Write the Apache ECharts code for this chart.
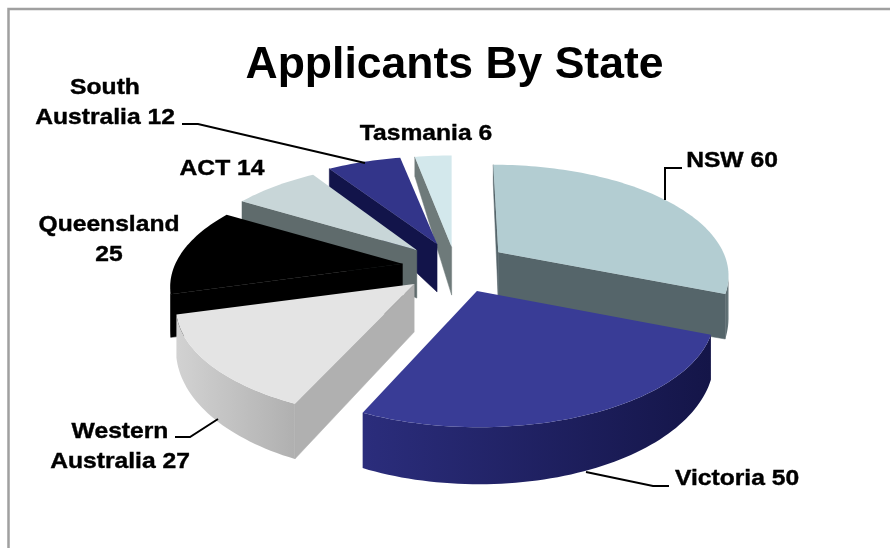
<!DOCTYPE html>
<html>
<head>
<meta charset="utf-8">
<style>
  html, body { margin: 0; padding: 0; background: #fff; }
  #main { width: 890px; height: 548px; }
</style>
</head>
<body>
<div id="main"></div>
<script src="https://cdn.jsdelivr.net/npm/echarts@6/dist/echarts.min.js"></script>
<script>
const categories = ["NSW", "Victoria", "Western Australia", "Queensland", "ACT", "South Australia", "Tasmania"];
const values = [60, 50, 27, 25, 14, 12, 6];
// back to front
const drawOrder = [6, 5, 4, 0, 3, 2, 1];

const topColors = ["#b3cdd2", "#393c96", "#e4e4e4", "#000000", "#c8d6d8", "#33358a", "#d3e8ec"];
const cutColors = ["#55656a", "#1a1b55", "#b0b0b0", "#000000", "#5f6b6c", "#12144a", "#6e7a7a"];
const wallColors = [
  ["#55656a", "#6a7a7e"],
  ["#2b2d7c", "#141548"],
  ["#d2d2d2", "#b0b0b0"],
  ["#000000", "#000000"],
  ["#5f6b6c", "#5f6b6c"],
  ["#12144a", "#12144a"],
  ["#6e7a7a", "#6e7a7a"],
];

// extra per-slice explosion on top of the common one, and a small apex correction
const sliceShift = [[0, 0], [8, 2], [-3, 0], [3, 0], [5, 1], [4, 1], [4.5, 2]];
const apexNudge = [[5, 0], [-2, -2], [3, 0], [-3, 0], [-4, 0], [0, 0], [0, 4]];

const labelLayout = [
  { x: 732, y: 161, wrap: false },
  { x: 737, y: 479, wrap: false },
  { x: 120, y: 447, wrap: true },
  { x: 109, y: 240, wrap: true },
  { x: 222, y: 169, wrap: false },
  { x: 105, y: 103, wrap: true },
  { x: 426, y: 134, wrap: false },
];
const leaderLines = [
  [[665, 200], [665, 168], [682, 168]],
  [[586, 472], [653, 486], [669, 486]],
  [[218, 419], [190, 437], [175, 437]],
  null,
  null,
  [[365, 163], [198, 124], [182, 124]],
  null,
];

const cx = 452, cy = 267;
const explodeX = 50, explodeY = 26;
const rx = 230, ry = 106, persp = 0.21;
const apexDepth = 48;

const total = values.reduce((a, b) => a + b, 0);

function sliceAngles(i) {
  let sum = 0;
  for (let k = 0; k < i; k++) sum += values[k];
  const a0 = (sum / total) * Math.PI * 2;
  return [a0, a0 + (values[i] / total) * Math.PI * 2];
}

function rimDepth(t) {
  return 38 - 19 * Math.cos(t);
}

function renderSlice(params) {
  const i = params.dataIndex;
  const [a0, a1] = sliceAngles(i);
  const mid = (a0 + a1) / 2;
  const base = [
    cx + explodeX * Math.sin(mid) + sliceShift[i][0],
    cy - explodeY * Math.cos(mid) + sliceShift[i][1],
  ];
  const apex = [base[0] + apexNudge[i][0], base[1] + apexNudge[i][1]];
  const rimPoint = (t) => {
    const s = 1 / (1 + persp * Math.cos(t));
    return [base[0] + rx * s * Math.sin(t), base[1] - ry * s * Math.cos(t)];
  };
  const steps = Math.max(8, Math.round((a1 - a0) * 40));
  const angles = [];
  for (let k = 0; k <= steps; k++) angles.push(a0 + ((a1 - a0) * k) / steps);
  const rim = angles.map(rimPoint);

  const rank = drawOrder.indexOf(i) * 10;
  const children = [];
  const down = (p, d) => [p[0], p[1] + d];

  // cut faces, only where they face the viewer
  const first = rim[0];
  const last = rim[rim.length - 1];
  if (first[0] < apex[0]) {
    children.push({
      type: "polygon",
      z2: rank,
      shape: { points: [apex, first, down(first, rimDepth(a0)), down(apex, apexDepth)] },
      style: { fill: cutColors[i], stroke: cutColors[i], lineWidth: 0.5 },
    });
  }
  if (apex[0] < last[0]) {
    children.push({
      type: "polygon",
      z2: rank + 1,
      shape: { points: [last, apex, down(apex, apexDepth), down(last, rimDepth(a1))] },
      style: { fill: cutColors[i], stroke: cutColors[i], lineWidth: 0.5 },
    });
  }

  // outer wall: the run of rim where x is falling
  const front = [];
  angles.forEach((t, k) => {
    const falling = (k > 0 && rim[k][0] < rim[k - 1][0]) || (k < steps && rim[k + 1][0] < rim[k][0]);
    if (falling) front.push(k);
  });
  if (front.length > 1) {
    const topEdge = front.map((k) => rim[k]);
    const lowEdge = front.map((k) => down(rim[k], rimDepth(angles[k]))).reverse();
    const xs = topEdge.map((p) => p[0]);
    const fill = new echarts.graphic.LinearGradient(
      Math.min(...xs), 0, Math.max(...xs), 0,
      [
        { offset: 0, color: wallColors[i][0] },
        { offset: 1, color: wallColors[i][1] },
      ],
      true
    );
    children.push({
      type: "polygon",
      z2: rank + 2,
      shape: { points: topEdge.concat(lowEdge) },
      style: { fill: fill },
    });
  }

  // top surface
  children.push({
    type: "polygon",
    z2: rank + 3,
    shape: { points: [apex].concat(rim) },
    style: { fill: topColors[i] },
  });

  // leader line and label
  if (leaderLines[i]) {
    children.push({
      type: "polyline",
      z2: 200,
      shape: { points: leaderLines[i] },
      style: { stroke: "#000", lineWidth: 2, fill: null },
    });
  }
  const raw = categories[i] + " " + values[i];
  const layout = labelLayout[i];
  children.push({
    type: "text",
    z2: 210,
    x: layout.x,
    y: layout.y,
    scaleX: 1.12,
    style: {
      text: layout.wrap ? raw.replace(" ", "\n") : raw,
      x: 0,
      y: 0,
      fill: "#000",
      stroke: "#000",
      lineWidth: 0.4,
      font: 'bold 22px "Liberation Sans", Arial, sans-serif',
      lineHeight: 30,
      align: "center",
      verticalAlign: "middle",
    },
  });

  return { type: "group", children: children };
}

const chart = echarts.init(document.getElementById("main"));
chart.setOption({
  animation: false,
  backgroundColor: "#fff",
  title: {
    text: "Applicants By State",
    left: 449.5,
    top: 38,
    textAlign: "center",
    textStyle: {
      color: "#000",
      fontFamily: '"Liberation Sans", Arial, sans-serif',
      fontWeight: "bold",
      fontSize: 44.5,
    },
  },
  graphic: [
    {
      type: "polyline",
      shape: { points: [[8.5, 548], [8.5, 9], [890, 9]] },
      style: { stroke: "#a0a0a0", lineWidth: 2.5, fill: null },
    },
  ],
  series: [
    {
      type: "custom",
      coordinateSystem: "none",
      renderItem: renderSlice,
      silent: true,
      data: values.map((v, i) => ({ name: categories[i], value: v })),
    },
  ],
});
</script>
</body>
</html>
